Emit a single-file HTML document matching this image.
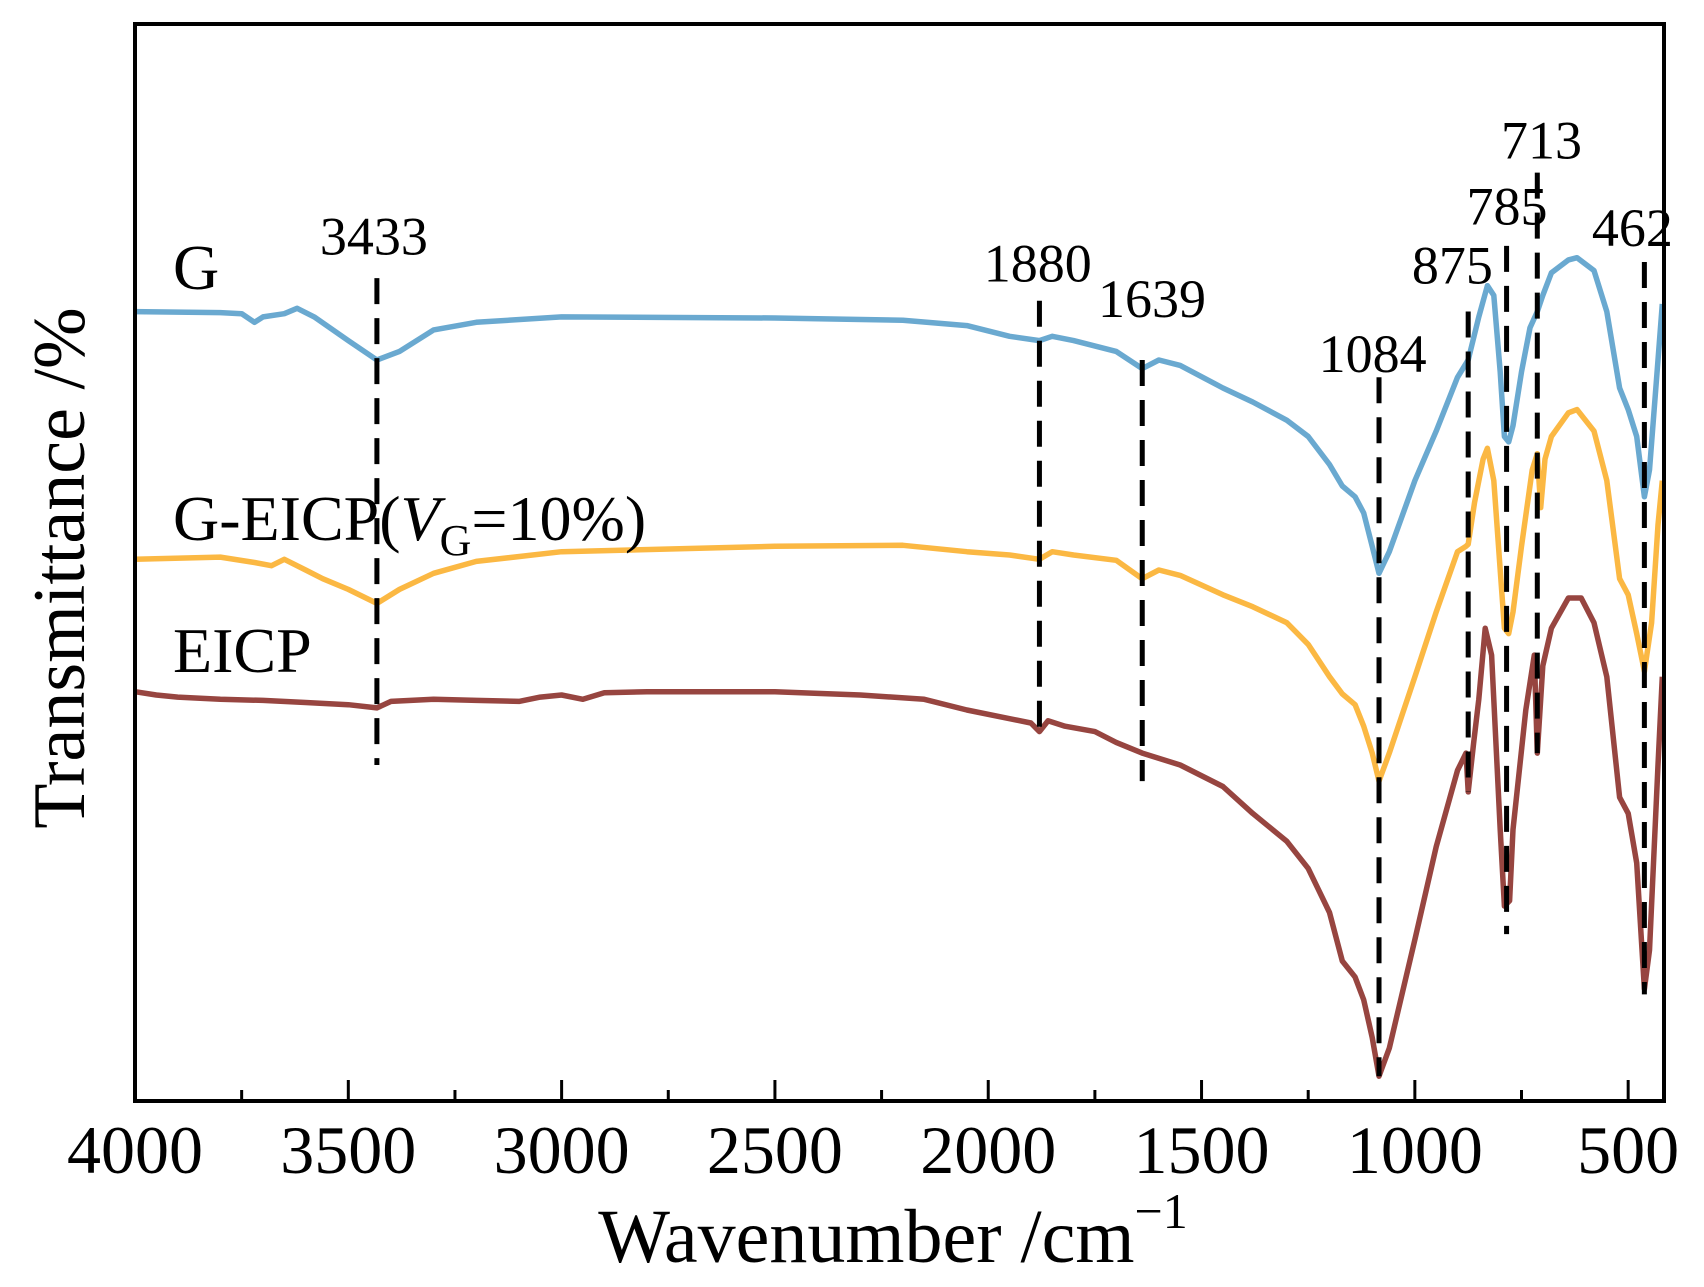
<!DOCTYPE html>
<html><head><meta charset="utf-8"><style>
html,body{margin:0;padding:0;background:#fff}
svg{display:block}
text{font-family:"Liberation Serif","Times New Roman",serif;fill:#000}
</style></head><body>
<svg id="chart" width="1704" height="1287" viewBox="0 0 1704 1287" xmlns="http://www.w3.org/2000/svg">
<g id="series"></g>
<g id="peaks"></g>
<rect x="135" y="24" width="1529" height="1077" fill="none" stroke="#000" stroke-width="4"/>
<g id="ticks"></g>
<text x="893" y="1262" font-size="76" text-anchor="middle">Wavenumber /cm<tspan font-size="50" dy="-34">−1</tspan></text>
<text transform="translate(84,568) rotate(-90)" font-size="74" text-anchor="middle">Transmittance /%</text>
<text x="173" y="289" font-size="64">G</text>
<text x="173" y="540" font-size="64">G-EICP(<tspan font-style="italic">V</tspan><tspan font-size="44" dy="15">G</tspan><tspan dy="-15">=10%)</tspan></text>
<text x="173" y="672" font-size="64">EICP</text>
</svg>
<script>
const xTicks = [4000,3500,3000,2500,2000,1500,1000,500];
const minorTicks = [3750,3250,2750,2250,1750,1250,750];
const gWave = [4000,3800,3750,3720,3700,3650,3620,3580,3500,3433,3380,3300,3200,3000,2500,2200,2050,1950,1880,1850,1800,1700,1639,1600,1550,1450,1380,1300,1250,1200,1170,1140,1120,1100,1084,1060,1000,950,900,875,850,830,815,800,790,780,770,750,730,713,700,680,640,620,580,550,520,500,480,462,450,430,420];
const gVals = [73.3,73.2,73.1,72.3,72.8,73.1,73.6,72.8,70.6,68.8,69.6,71.6,72.3,72.8,72.7,72.5,72.0,71.0,70.6,71.0,70.6,69.6,68.0,68.8,68.3,66.2,64.9,63.2,61.7,59.1,57.1,56.1,54.6,51.5,49.0,51.0,57.6,62.2,67.2,68.8,72.8,75.7,74.8,67.7,61.7,61.2,62.7,67.7,71.8,73.3,74.8,76.9,78.1,78.3,77.1,73.3,66.2,64.2,61.7,56.1,58.6,68.8,74.0];
const geWave = [4000,3800,3720,3680,3650,3600,3560,3500,3433,3380,3300,3200,3000,2500,2200,2050,1950,1880,1850,1800,1700,1639,1600,1550,1450,1380,1300,1250,1200,1170,1140,1120,1100,1084,1060,1000,950,900,880,875,860,840,830,815,800,790,780,770,750,725,713,705,695,680,640,620,580,550,520,500,480,462,445,430,420];
const geVals = [50.3,50.5,50.0,49.7,50.3,49.3,48.5,47.5,46.2,47.5,49.0,50.1,51.0,51.5,51.6,51.0,50.7,50.3,51.0,50.7,50.2,48.5,49.3,48.8,47.0,45.9,44.4,42.4,39.4,37.8,36.8,34.8,32.3,29.7,32.3,39.4,45.4,51.0,51.5,51.7,55.6,59.6,60.6,57.6,49.3,43.9,43.4,45.4,51.5,58.6,60.1,55.1,59.6,61.7,63.9,64.2,62.2,57.6,48.5,47.0,43.4,39.9,44.4,53.5,57.6];
const eWave = [4000,3950,3900,3800,3700,3600,3500,3433,3400,3300,3200,3100,3050,3000,2950,2900,2800,2500,2300,2150,2050,1950,1900,1880,1860,1820,1750,1700,1639,1550,1450,1380,1300,1250,1200,1170,1140,1120,1100,1084,1060,1000,950,900,880,875,862,850,835,820,800,790,778,770,740,720,713,700,680,640,610,580,550,520,500,480,462,450,430,420];
const eVals = [38.0,37.7,37.5,37.3,37.2,37.0,36.8,36.5,37.1,37.3,37.2,37.1,37.5,37.7,37.3,37.9,38.0,38.0,37.7,37.3,36.3,35.5,35.1,34.3,35.3,34.8,34.3,33.3,32.3,31.2,29.2,26.7,24.1,21.6,17.5,13.0,11.5,9.4,5.9,2.3,4.9,15.0,23.6,30.7,32.3,28.7,33.3,37.3,43.9,41.4,25.2,18.1,18.6,25.2,36.3,41.4,32.3,40.4,43.9,46.7,46.7,44.4,39.4,28.2,26.7,22.1,10.4,14.0,31.2,39.4];
const peakWave = [3433,1880,1639,1084,875,785,713,462];
const peakTop = [76.4,74.3,68.8,67.2,73.3,79.4,86.2,77.9];
const peakBottom = [31.2,33.8,29.7,2.3,28.7,15.5,32.3,9.9];
const peakLabelWave = [3440,1884,1616,1099,912,784,703,490];
const peakLabelT = [78.6,76.1,72.8,67.7,75.9,81.4,87.5,79.4];

const NS = 'http://www.w3.org/2000/svg';
function xs(w){ return 135 + (4000 - w) * 1529 / 3584; }
function ys(t){ return 1101 - t * 10.77; }
function mk(tag, attrs, parent){
  const el = document.createElementNS(NS, tag);
  for (const k in attrs) el.setAttribute(k, attrs[k]);
  parent.appendChild(el);
  return el;
}
const gS = document.getElementById('series');
function drawSeries(wave, vals, color, name){
  let d = '';
  for (let i = 0; i < wave.length; i++) d += (i ? 'L' : 'M') + xs(wave[i]).toFixed(1) + ',' + ys(vals[i]).toFixed(1);
  const p = mk('path', {d: d, fill: 'none', stroke: color, 'stroke-width': 5.5, 'stroke-linejoin': 'round'}, gS);
  
  
}
drawSeries(gWave, gVals, '#6aa9d0', 'series-g');
drawSeries(geWave, geVals, '#fbb843', 'series-g-eicp');
drawSeries(eWave, eVals, '#974540', 'series-eicp');

const gP = document.getElementById('peaks');
for (let i = 0; i < peakWave.length; i++){
  const x = xs(peakWave[i]);
  const l = mk('line', {x1: x, x2: x, y1: ys(peakTop[i]), y2: ys(peakBottom[i]), stroke: '#000', 'stroke-width': 5, 'stroke-dasharray': '26 14'}, gP);
  
  
  const t = mk('text', {x: xs(peakLabelWave[i]), y: ys(peakLabelT[i]), 'font-size': 54, 'text-anchor': 'middle'}, gP);
  t.textContent = String(peakWave[i]);
  
  
}

const gT = document.getElementById('ticks');
for (const w of xTicks){
  const x = xs(w);
  const l = mk('line', {x1: x, x2: x, y1: 1101, y2: 1080, stroke: '#000', 'stroke-width': 3}, gT);
  
  
  const t = mk('text', {x: x, y: 1173, 'font-size': 68, 'text-anchor': 'middle'}, gT);
  t.textContent = String(w);
  
  
}
for (const w of minorTicks){
  const x = xs(w);
  const l = mk('line', {x1: x, x2: x, y1: 1101, y2: 1090, stroke: '#000', 'stroke-width': 3}, gT);
  
  
}
</script>
</body></html>
